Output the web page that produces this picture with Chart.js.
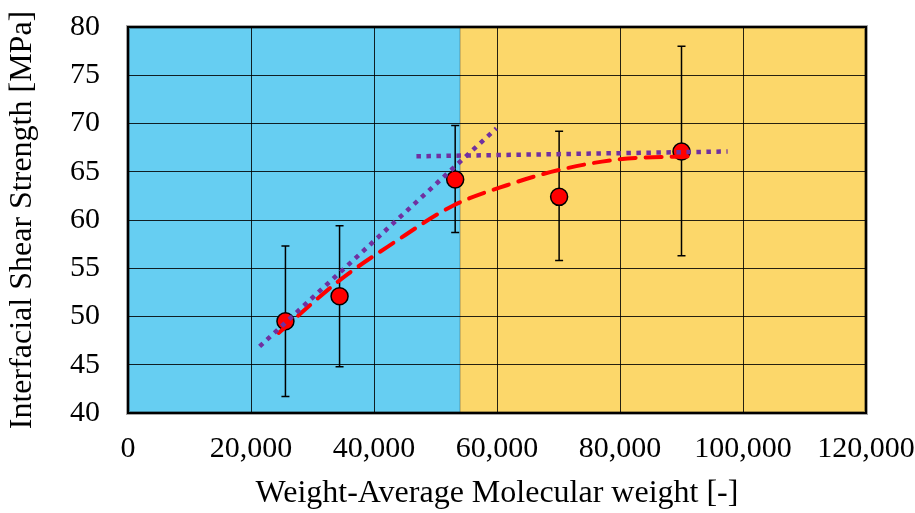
<!DOCTYPE html>
<html>
<head>
<meta charset="utf-8">
<script src="https://cdn.jsdelivr.net/npm/chart.js@4.4.1/dist/chart.umd.min.js"></script>
<style>
  html, body { margin: 0; padding: 0; background: #fff; }
  #wrap { width: 915px; height: 513px; }
</style>
</head>
<body>
<div id="wrap"><canvas id="chart" width="915" height="513"></canvas></div>
<script>
// measured points
const molWeight = [25600, 34400, 53200, 70100, 90000];
const shearStrength = [49.5, 52.1, 64.2, 62.4, 67.1];
const errHigh = [57.3, 59.4, 69.8, 69.2, 78.0];
const errLow = [41.7, 44.8, 58.7, 55.8, 56.3];

// red dashed fit curve
const fitX = [24500, 34500, 43100, 52900, 61600, 70200, 80000, 91400];
const fitY = [48.3, 53.8, 57.6, 61.5, 63.6, 65.2, 66.3, 66.6];

// purple dotted trend lines
const trendRiseX = [21400, 59900];
const trendRiseY = [46.9, 69.5];
const trendFlatX = [46900, 97500];
const trendFlatY = [66.6, 67.1];

// background regions
const regionSplit = 54000;
const xTicks = [0, 20000, 40000, 60000, 80000, 100000, 120000];
const yTicks = [40, 45, 50, 55, 60, 65, 70, 75, 80];

const toXY = (xs, ys) => xs.map((x, i) => ({ x: x, y: ys[i] }));

const FONT = 'Liberation Serif, "Times New Roman", serif';

// blue / yellow regions behind the grid
const regionPlugin = {
  id: 'regions',
  beforeDraw(chart) {
    const { ctx, chartArea, scales } = chart;
    const xs = scales.x.getPixelForValue(regionSplit);
    ctx.save();
    ctx.fillStyle = '#66cef2';
    ctx.fillRect(chartArea.left, chartArea.top, xs - chartArea.left, chartArea.bottom - chartArea.top);
    ctx.fillStyle = '#fcd76a';
    ctx.fillRect(xs, chartArea.top, chartArea.right - xs, chartArea.bottom - chartArea.top);
    ctx.strokeStyle = 'rgba(0,0,0,0.3)';
    ctx.lineWidth = 1;
    ctx.beginPath();
    ctx.moveTo(xs, chartArea.top);
    ctx.lineTo(xs, chartArea.bottom);
    ctx.stroke();
    ctx.restore();
  }
};

// error bars + frame
const errorBarPlugin = {
  id: 'errorBars',
  beforeDatasetsDraw(chart) {
    const { ctx, chartArea, scales } = chart;
    ctx.save();
    ctx.strokeStyle = '#000';
    ctx.lineWidth = 1.5;
    molWeight.forEach((mw, i) => {
      const px = scales.x.getPixelForValue(mw);
      const top = scales.y.getPixelForValue(errHigh[i]);
      const bot = scales.y.getPixelForValue(errLow[i]);
      ctx.beginPath();
      ctx.moveTo(px, top);
      ctx.lineTo(px, bot);
      ctx.moveTo(px - 4, top);
      ctx.lineTo(px + 4, top);
      ctx.moveTo(px - 4, bot);
      ctx.lineTo(px + 4, bot);
      ctx.stroke();
    });
    // frame
    ctx.strokeStyle = 'rgba(0,0,0,0.35)';
    ctx.lineWidth = 4;
    ctx.strokeRect(chartArea.left, chartArea.top, chartArea.right - chartArea.left, chartArea.bottom - chartArea.top);
    ctx.strokeStyle = '#000';
    ctx.lineWidth = 2;
    ctx.strokeRect(chartArea.left, chartArea.top, chartArea.right - chartArea.left, chartArea.bottom - chartArea.top);
    ctx.restore();
  }
};

new Chart(document.getElementById('chart'), {
  type: 'scatter',
  data: {
    datasets: [
      {
        label: 'IFSS',
        data: toXY(molWeight, shearStrength),
        backgroundColor: '#ff0000',
        borderColor: '#000',
        borderWidth: 1.5,
        pointRadius: 8.5,
        order: 3
      },
      {
        type: 'line',
        label: 'fit',
        data: toXY(fitX, fitY),
        borderColor: '#ff0000',
        borderWidth: 4,
        borderDash: [16, 10],
        borderCapStyle: 'round',
        cubicInterpolationMode: 'monotone',
        pointRadius: 0,
        fill: false,
        order: 2
      },
      {
        type: 'line',
        label: 'rise',
        data: toXY(trendRiseX, trendRiseY),
        borderColor: '#7030a0',
        borderWidth: 4.5,
        borderDash: [4.5, 5.5],
        pointRadius: 0,
        fill: false,
        order: 1
      },
      {
        type: 'line',
        label: 'flat',
        data: toXY(trendFlatX, trendFlatY),
        borderColor: '#7030a0',
        borderWidth: 4.5,
        borderDash: [4.5, 5.5],
        pointRadius: 0,
        fill: false,
        order: 0
      }
    ]
  },
  options: {
    responsive: false,
    animation: false,
    layout: { padding: { top: 27, right: 49, bottom: 0, left: 0 } },
    plugins: {
      legend: { display: false },
      tooltip: { enabled: false }
    },
    scales: {
      x: {
        type: 'linear',
        min: 0,
        max: 120000,
        afterBuildTicks: (scale) => { scale.ticks = xTicks.map(v => ({ value: v })); },
        afterFit: (scale) => {
          scale.height = 100;
          scale.paddingLeft = 0;
          scale.paddingRight = 0;
        },
        grid: { color: 'rgba(0,0,0,0.85)', lineWidth: 1, drawTicks: false },
        border: { display: false },
        ticks: {
          color: '#000',
          padding: 18,
          maxRotation: 0,
          font: { family: FONT, size: 30 },
          callback: (v) => v.toLocaleString('en-US')
        },
        title: {
          display: true,
          text: 'Weight-Average Molecular weight [-]',
          color: '#000',
          font: { family: FONT, size: 32 },
          padding: { top: 0, bottom: 0 }
        }
      },
      y: {
        type: 'linear',
        min: 40,
        max: 80,
        afterBuildTicks: (scale) => { scale.ticks = yTicks.map(v => ({ value: v })); },
        afterFit: (scale) => {
          scale.width = 128;
          scale.paddingTop = 0;
          scale.paddingBottom = 0;
        },
        grid: { color: 'rgba(0,0,0,0.85)', lineWidth: 1, drawTicks: false },
        border: { display: false },
        ticks: {
          color: '#000',
          padding: 28,
          font: { family: FONT, size: 30 }
        },
        title: {
          display: true,
          text: 'Interfacial Shear Strength [MPa]',
          color: '#000',
          font: { family: FONT, size: 32 },
          padding: { top: 3, bottom: 0 }
        }
      }
    }
  },
  plugins: [regionPlugin, errorBarPlugin]
});
</script>
</body>
</html>
